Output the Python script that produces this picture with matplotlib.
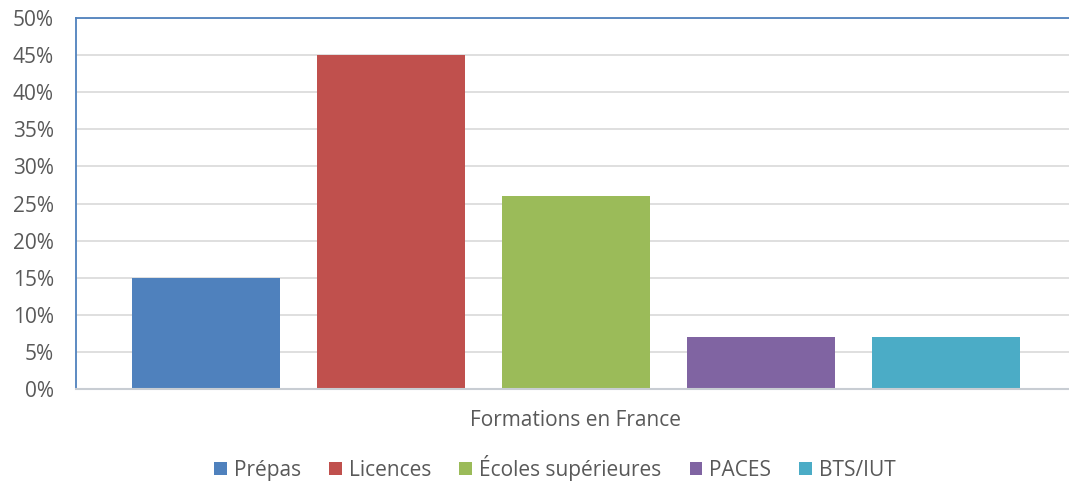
import matplotlib.pyplot as plt
from matplotlib.patches import Patch
from matplotlib.ticker import PercentFormatter

categories = ['Prépas', 'Licences', 'Écoles supérieures', 'PACES', 'BTS/IUT']
values = [15, 45, 26, 7, 7]
colors = ['#4F81BD', '#C0504D', '#9BBB59', '#8064A2', '#4BACC6']

plt.rcParams['font.family'] = ['Open Sans', 'DejaVu Sans']

fig = plt.figure(figsize=(10.69, 4.88), dpi=100)
ax = fig.add_axes([76 / 1069, 99 / 488, 993 / 1069, 371 / 488])

x = list(range(len(categories)))
ax.bar(x, values, width=0.8, color=colors, zorder=3)

ax.set_xlim(-0.703, 4.665)
ax.set_ylim(0, 50)
ax.set_yticks(range(0, 51, 5))
ax.yaxis.set_major_formatter(PercentFormatter(decimals=0))
ax.set_xticks([])
ax.tick_params(axis='y', length=0, labelsize=15, labelcolor='#595959', pad=16)
ax.grid(axis='y', color='#D9D9D9', linewidth=1.2, zorder=0)

for s in ['left', 'top']:
    ax.spines[s].set_color('#4F81BD')
    ax.spines[s].set_linewidth(1.3)
ax.spines['right'].set_visible(False)
ax.spines['bottom'].set_color('#C8CDD3')
ax.spines['bottom'].set_linewidth(1.5)
ax.spines['bottom'].set_zorder(4)

fig.text(576 / 1069, 1 - 421 / 488, 'Formations en France', ha='center', va='center',
         fontsize=15, color='#595959')

handles = [Patch(facecolor=c, label=l) for c, l in zip(colors, categories)]
fig.legend(handles=handles, loc='center', bbox_to_anchor=(555 / 1069, 1 - 468 / 488),
           ncol=5, frameon=False, fontsize=15, labelcolor='#595959',
           handlelength=0.6, handleheight=0.6, handletextpad=0.35, columnspacing=1.35)

fig.savefig('out.png', dpi=100, facecolor='white')
